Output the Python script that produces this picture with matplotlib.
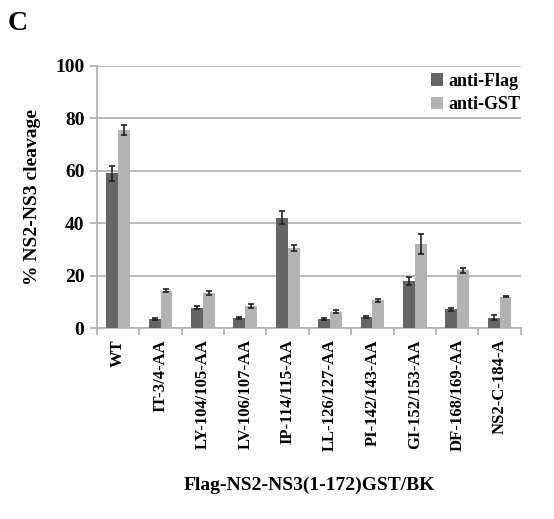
import numpy as np
import matplotlib.pyplot as plt

plt.rcParams['font.family'] = ['Liberation Serif', 'DejaVu Serif']
plt.rcParams['font.weight'] = 'bold'

categories = ['WT', 'IT-3/4-AA', 'LY-104/105-AA', 'LV-106/107-AA', 'IP-114/115-AA',
              'LL-126/127-AA', 'PI-142/143-AA', 'GI-152/153-AA', 'DF-168/169-AA', 'NS2-C-184-A']
flag_vals = [59, 3.5, 7.8, 3.8, 42, 3.5, 4.3, 18, 7.2, 4.0]
flag_err = [2.8, 0.5, 0.6, 0.4, 2.5, 0.4, 0.3, 1.4, 0.6, 1.1]
gst_vals = [75.5, 14.3, 13.5, 8.5, 30.5, 6.2, 10.5, 32, 22, 12]
gst_err = [2.0, 0.6, 0.8, 0.8, 1.0, 0.5, 0.5, 3.8, 1.0, 0.2]

fig = plt.figure(figsize=(5.54, 5.19), dpi=100)
ax = fig.add_axes([0.175, 0.368, 0.765, 0.505])

x = np.arange(len(categories))
w = 0.28
grey = '#b0b0b0'
ax.bar(x - w / 2, flag_vals, w, yerr=flag_err, color='#656565', label='anti-Flag',
       error_kw=dict(ecolor='#222222', elinewidth=1.2, capsize=2.5, capthick=1.2), zorder=3)
ax.bar(x + w / 2, gst_vals, w, yerr=gst_err, color='#b3b3b3', label='anti-GST',
       error_kw=dict(ecolor='#222222', elinewidth=1.2, capsize=2.5, capthick=1.2), zorder=3)

ax.set_xlim(-0.5, len(categories) - 0.5)
ax.set_ylim(0, 100)
ax.set_yticks(range(0, 101, 20))
ax.yaxis.grid(True, color=grey, linewidth=1.2, zorder=0)
ax.set_axisbelow(True)

ax.set_xticks(x)
ax.set_xticklabels(categories, rotation=90, fontsize=12, fontweight='bold')
ax.set_xticks(np.arange(-0.5, len(categories)), minor=True)
ax.tick_params(axis='x', which='major', length=0, pad=8)
ax.tick_params(axis='x', which='minor', length=5, color=grey, width=1.2)
ax.tick_params(axis='y', length=5, color=grey, width=1.2, labelsize=14, pad=4)
for lab in ax.get_yticklabels():
    lab.set_fontweight('bold')

for s in ['top', 'right']:
    ax.spines[s].set_visible(False)
for s in ['left', 'bottom']:
    ax.spines[s].set_color(grey)
    ax.spines[s].set_linewidth(1.2)

ax.set_ylabel('% NS2-NS3 cleavage', fontsize=14, fontweight='bold', labelpad=10)
ax.set_xlabel('Flag-NS2-NS3(1-172)GST/BK', fontsize=14, fontweight='bold', labelpad=18)

leg = ax.legend(loc='upper right', frameon=False, fontsize=13, handlelength=0.7,
                handleheight=0.7, handletextpad=0.3, labelspacing=0.35,
                borderpad=0, borderaxespad=0, bbox_to_anchor=(1.0, 0.973))
for t in leg.get_texts():
    t.set_fontweight('bold')

fig.text(0.014, 0.955, 'C', fontsize=20, fontweight='bold', va='center')

fig.savefig('out.png', dpi=100)
